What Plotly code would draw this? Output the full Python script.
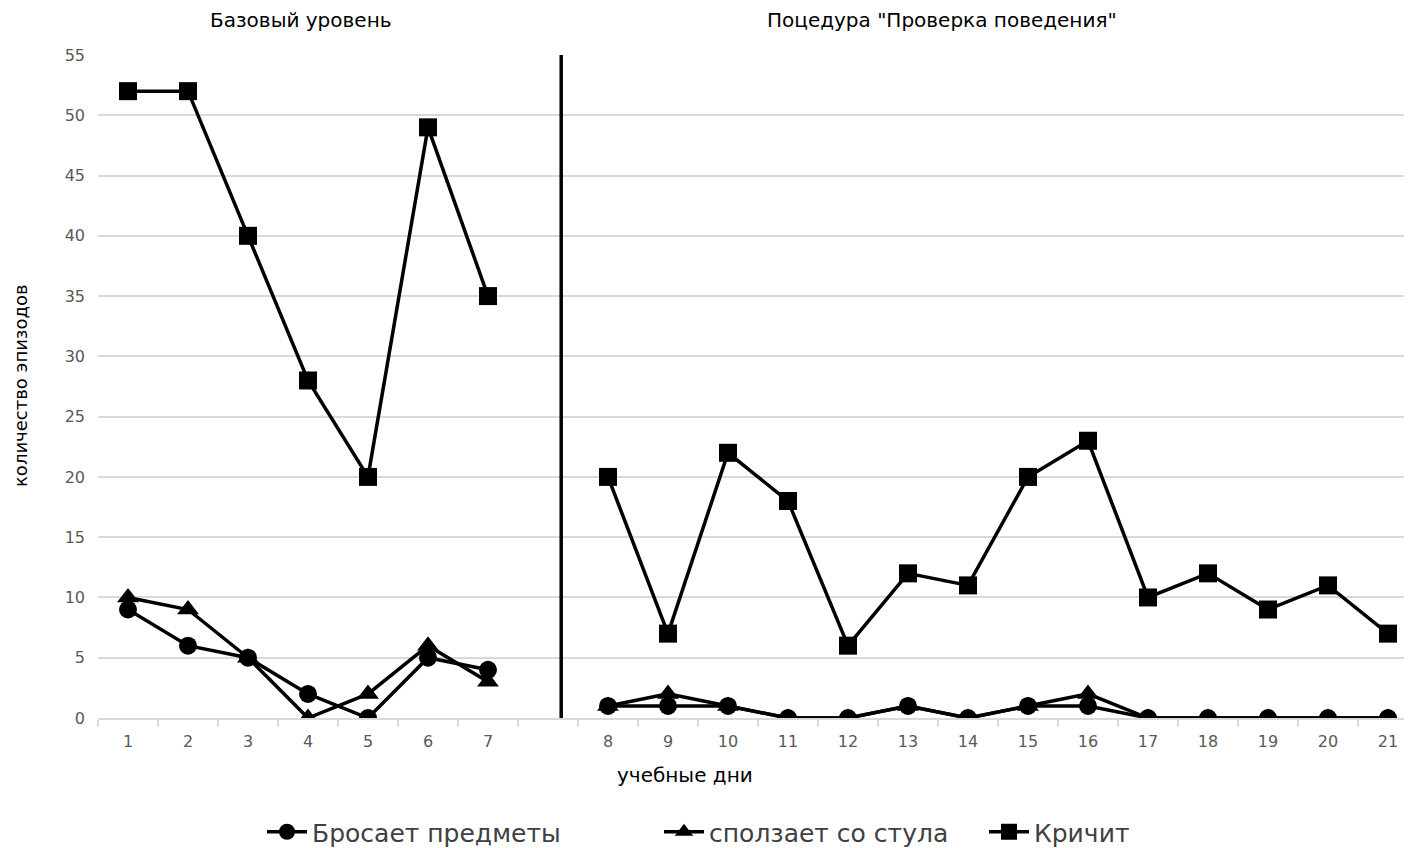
import plotly.graph_objects as go

days = [str(d) for d in range(1, 22)]
# position index: days 1-7 at 0..6, blank slot at 7, days 8-21 at 8..21
positions = list(range(0, 7)) + list(range(8, 22))

throws = [9, 6, 5, 2, 0, 5, 4, 1, 1, 1, 0, 0, 1, 0, 1, 1, 0, 0, 0, 0, 0]
slides = [10, 9, 5, 0, 2, 6, 3, 1, 2, 1, 0, 0, 1, 0, 1, 2, 0, 0, 0, 0, 0]
shouts = [52, 52, 40, 28, 20, 49, 35, 20, 7, 22, 18, 6, 12, 11, 20, 23, 10, 12, 9, 11, 7]

series_names = ["Бросает предметы", "сползает со стула", "Кричит"]
phase_titles = ["Базовый уровень", "Поцедура \"Проверка поведения\""]
x_title = "учебные дни"
y_title = "количество эпизодов"

FONT = "DejaVu Sans"
OFF = 8  # page body margin in the browser
W, H = 1412, 848
# desired on-screen plot box: x 98..1412, y 55..718
L = 98 - OFF
T = 55 - OFF
R = W - (1412 - OFF)
B = H - (718 - OFF)
PW, PH = W - L - R, H - T - B


def split(vals):
    return positions[:7] + [None] + positions[7:], vals[:7] + [None] + vals[7:]


def px_x(sx):  # screen px -> paper x
    return (sx - OFF - L) / PW


def px_y(sy):  # screen px -> paper y
    return (H - B - (sy - OFF)) / PH


fig = go.Figure()

styles = [
    (slides, series_names[1], "triangle-up", 19, "legend2"),
    (throws, series_names[0], "circle", 18, "legend"),
    (shouts, series_names[2], "square", 18, "legend3"),
]
for vals, name, sym, size, leg in styles:
    xs, ys = split(vals)
    fig.add_trace(go.Scatter(
        x=xs, y=ys, name=name, mode="lines+markers",
        connectgaps=False,
        line=dict(color="black", width=3.5),
        marker=dict(symbol=sym, size=size, color="black"),
        legend=leg,
    ))

fig.add_shape(type="line", xref="x", yref="y", x0=7.22, x1=7.22, y0=0, y1=55.25,
              line=dict(color="black", width=3.5))

for txt, cx in zip(phase_titles, [301, 942]):
    fig.add_annotation(text=txt, xref="paper", yref="paper",
                       x=px_x(cx), y=px_y(20), showarrow=False,
                       font=dict(size=20, color="black", family=FONT),
                       xanchor="center", yanchor="middle")

fig.add_annotation(text=x_title, xref="paper", yref="paper",
                   x=px_x(685), y=px_y(775), showarrow=False,
                   font=dict(size=20, color="black", family=FONT),
                   xanchor="center", yanchor="middle")
fig.add_annotation(text=y_title, xref="paper", yref="paper",
                   x=px_x(20), y=px_y(386), showarrow=False, textangle=-90,
                   font=dict(size=18, color="black", family=FONT),
                   xanchor="center", yanchor="middle")

leg_common = dict(orientation="h", yanchor="middle", xanchor="left",
                  font=dict(size=25, color="#404040", family=FONT),
                  bgcolor="rgba(0,0,0,0)", itemwidth=40)

fig.update_layout(
    width=W, height=H,
    margin=dict(l=L, r=R, t=T, b=B, autoexpand=False),
    plot_bgcolor="white", paper_bgcolor="white",
    font=dict(family=FONT, color="#595959"),
    showlegend=True,
    legend=dict(x=px_x(262), y=px_y(832), **leg_common),
    legend2=dict(x=px_x(659), y=px_y(832), **leg_common),
    legend3=dict(x=px_x(984), y=px_y(832), **leg_common),
    xaxis=dict(
        range=[-0.5, 21.4], automargin=False,
        tickmode="array", tickvals=positions, ticktext=days,
        tickfont=dict(size=16, color="#595959", family=FONT),
        ticklabelstandoff=8,
        showgrid=False, zeroline=False,
        showline=True, linecolor="#d9d9d9", linewidth=2,
        ticks="",
        minor=dict(tick0=-0.5, dtick=1, ticks="outside", ticklen=7,
                   tickcolor="#d9d9d9", tickwidth=2, showgrid=False),
    ),
    yaxis=dict(
        range=[0, 55], tickmode="linear", tick0=0, dtick=5, automargin=False,
        tickfont=dict(size=16, color="#595959", family=FONT),
        showgrid=True, gridcolor="#d9d9d9", gridwidth=2,
        zeroline=False, showline=False, ticks="",
        ticklabelstandoff=12,
    ),
)

fig.write_html("out.html")
